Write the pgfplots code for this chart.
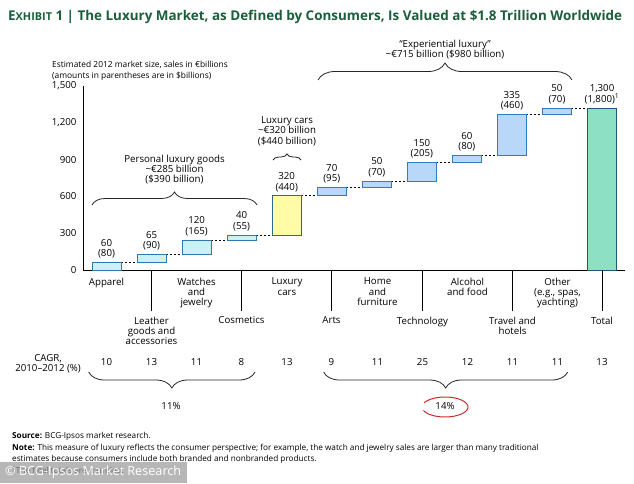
\documentclass[border=0pt]{standalone}
\usepackage{pgfplots}
\pgfplotsset{compat=1.18}
\usepackage{pgfplotstable}
\usetikzlibrary{decorations.pathreplacing}
\usepackage{fontspec}
\setmainfont{Open Sans}
\definecolor{titlegreen}{HTML}{1B5E3B}
\definecolor{cyanfill}{HTML}{C9F3F3}
\definecolor{cyanedge}{HTML}{2E78AE}
\definecolor{yelfill}{HTML}{FFFBA6}
\definecolor{yeledge}{HTML}{2A6A8C}
\definecolor{bluefill}{HTML}{B9D7F8}
\definecolor{blueedge}{HTML}{2F7CC4}
\definecolor{totfill}{HTML}{8EE0C4}
\definecolor{totedge}{HTML}{1F5878}
\definecolor{circred}{HTML}{CC2B2B}
\newcommand\lab{\fontsize{9.7}{10.4}\selectfont}
\newcommand\sml{\fontsize{8.4}{11}\selectfont}

\pgfplotstableread{
x base delta
0 0 60
1 60 65
2 125 120
3 245 40
}\personal
\pgfplotstableread{
x base delta
4 285 320
}\cars
\pgfplotstableread{
x base delta
5 605 70
6 675 50
7 725 150
8 875 60
9 935 335
10 1270 50
}\experiential
\pgfplotstableread{
x base delta
11 0 1320
}\total

\pgfplotsset{
  geom/.style={at={(83pt,-270pt)}, anchor=south west, scale only axis,
    width=542pt, height=184pt, xmin=-0.522, xmax=11.51, ymin=0, ymax=1500, clip=false},
  baraxis/.style={geom, hide axis, ybar stacked, bar width=0.644},
}

\begin{document}
\begin{tikzpicture}[x=1pt,y=1pt]

% main axis
\begin{axis}[geom,
  axis lines*=left,
  axis line style={line width=0.9pt, black},
  xtick=\empty,
  ytick={0,300,600,900,1200,1500},
  major tick length=0pt,
  yticklabel style={font=\lab, xshift=-3pt},
  /pgf/number format/.cd, 1000 sep={,}, assume math mode=true]
\addplot[black, line width=0.9pt, dash pattern=on 2pt off 2pt, unbounded coords=jump] coordinates {
(0.322,60) (0.678,60) (0.5,nan)
(1.322,125) (1.678,125) (1.5,nan)
(2.322,245) (2.678,245) (2.5,nan)
(3.322,285) (3.678,285) (3.5,nan)
(4.322,605) (4.678,605) (4.5,nan)
(5.322,675) (5.678,675) (5.5,nan)
(6.322,725) (6.678,725) (6.5,nan)
(7.322,875) (7.678,875) (7.5,nan)
(8.322,935) (8.678,935) (8.5,nan)
(9.322,1270) (9.678,1270) (9.5,nan)
(10.322,1320) (10.678,1320)
};
\begin{scope}[every node/.style={anchor=south, align=center, inner sep=0pt, yshift=4pt, font=\lab}]
\node at (axis cs:0,60) {60\\(80)};
\node at (axis cs:1,125) {65\\(90)};
\node at (axis cs:2,245) {120\\(165)};
\node at (axis cs:3,285) {40\\(55)};
\node at (axis cs:4,605) {320\\(440)};
\node at (axis cs:5,675) {70\\(95)};
\node at (axis cs:6,725) {50\\(70)};
\node at (axis cs:7,875) {150\\(205)};
\node at (axis cs:8,935) {60\\(80)};
\node at (axis cs:9,1270) {335\\(460)};
\node at (axis cs:10,1320) {50\\(70)};
\node at (axis cs:11,1320) {1,300\\(1,800)\textsuperscript{1}};
\end{scope}
\end{axis}

\begin{axis}[baraxis]
\addplot[draw=none, fill=none] table[x=x, y=base] {\personal};
\addplot[fill=cyanfill, draw=cyanedge, line width=0.9pt] table[x=x, y=delta] {\personal};
\end{axis}
\begin{axis}[baraxis]
\addplot[draw=none, fill=none] table[x=x, y=base] {\cars};
\addplot[fill=yelfill, draw=yeledge, line width=0.9pt] table[x=x, y=delta] {\cars};
\end{axis}
\begin{axis}[baraxis]
\addplot[draw=none, fill=none] table[x=x, y=base] {\experiential};
\addplot[fill=bluefill, draw=blueedge, line width=0.9pt] table[x=x, y=delta] {\experiential};
\end{axis}
\begin{axis}[baraxis]
\addplot[draw=none, fill=none] table[x=x, y=base] {\total};
\addplot[fill=totfill, draw=totedge, line width=0.9pt] table[x=x, y=delta] {\total};
\end{axis}

% title
\node[anchor=west, inner sep=0pt, text=titlegreen] at (8,-17)
  {\resizebox{614pt}{!}{\fontsize{13}{15}\selectfont\bfseries E{\fontsize{10.5}{12}\selectfont XHIBIT} 1 | The Luxury Market, as Defined by Consumers, Is Valued at \$1.8 Trillion Worldwide}};

% header notes
\node[anchor=north west, align=left, inner sep=0pt, font=\sml] at (52,-61)
  {Estimated 2012 market size, sales in €billions\\(amounts in parentheses are in \$billions)};
\node[align=center, inner sep=0pt, font=\lab] at (445,-49.5)
  {“Experiential luxury”\\\textasciitilde€715 billion (\$980 billion)};
\node[align=center, inner sep=0pt, font=\lab] at (174.5,-169.5)
  {Personal luxury goods\\\textasciitilde€285 billion\\(\$390 billion)};
\node[align=center, inner sep=0pt, font=\lab] at (287,-131)
  {Luxury cars\\\textasciitilde€320 billion\\(\$440 billion)};

% braces
\begin{scope}[line width=0.8pt, black!85]
\draw[decorate, decoration={brace, amplitude=17pt}] (318,-80) -- (572,-80);
\draw[decorate, decoration={brace, amplitude=13pt}] (92,-205) -- (257,-205);
\draw[decorate, decoration={brace, amplitude=6pt}] (273,-160) -- (301,-160);
\draw[decorate, decoration={brace, amplitude=16pt}] (255,-372) -- (88.7,-372);
\draw[decorate, decoration={brace, amplitude=16pt}] (567.7,-372) -- (323.6,-372);
\end{scope}

% dividers
\foreach \x in {151.5,241.5,331.5,422.5,512.5,602}
  \draw[line width=0.8pt] (\x,-270) -- (\x,-311);

% category labels
\begin{scope}[every node/.style={anchor=north, align=center, inner sep=0pt, font=\lab}]
\node at (106.5,-277.5) {Apparel};
\node at (196.5,-277.5) {Watches\\and\\jewelry};
\node at (287,-277.5) {Luxury\\cars};
\node at (377.5,-277.5) {Home\\and\\furniture};
\node at (467.5,-277.5) {Alcohol\\and food};
\node at (557.5,-277.5) {Other\\(e.g., spas,\\yachting)};
\node at (151.5,-316.5) {Leather\\goods and\\accessories};
\node at (241.5,-316.5) {Cosmetics};
\node at (331.5,-316.5) {Arts};
\node at (422.5,-316.5) {Technology};
\node at (512.5,-316.5) {Travel and\\hotels};
\node at (602,-316.5) {Total};
\end{scope}

% CAGR row
\node[anchor=east, align=center, inner sep=0pt, font=\lab] at (81,-364) {CAGR,\\2010–2012 (\%)};
\begin{scope}[every node/.style={inner sep=0pt, font=\lab}]
\node at (106.5,-362) {10};
\node at (151.5,-362) {13};
\node at (196.5,-362) {11};
\node at (241.5,-362) {8};
\node at (287,-362) {13};
\node at (331.5,-362) {9};
\node at (377.5,-362) {11};
\node at (422.5,-362) {25};
\node at (467.5,-362) {12};
\node at (512.5,-362) {11};
\node at (557.5,-362) {11};
\node at (602,-362) {13};
\node at (171,-406) {11\%};
\node at (445,-406) {14\%};
\end{scope}
\draw[circred, line width=1pt] ([shift={(200:23 and 10)}]445,-407) arc[start angle=200, end angle=515, x radius=23, y radius=10];

% source
\node[anchor=north west, align=left, inner sep=0pt, font=\fontsize{8.2}{11.7}\selectfont] at (12,-432)
  {\textbf{Source:} BCG-Ipsos market research.\\
   \textbf{Note:} This measure of luxury reflects the consumer perspective; for example, the watch and jewelry sales are larger than many traditional\\
   estimates because consumers include both branded and nonbranded products.\\
   \textsuperscript{1}The final totals are rounded.};

% watermark
\fill[black!40, opacity=0.7] (0,-462) rectangle (187,-483);
\node[anchor=west, inner sep=0pt, text=white] at (5,-472.5)
  {\resizebox{176pt}{!}{\fontsize{12}{13}\selectfont © BCG-Ipsos Market Research}};

\pgfresetboundingbox
\useasboundingbox (0,0) rectangle (634,-483);
\end{tikzpicture}
\end{document}
